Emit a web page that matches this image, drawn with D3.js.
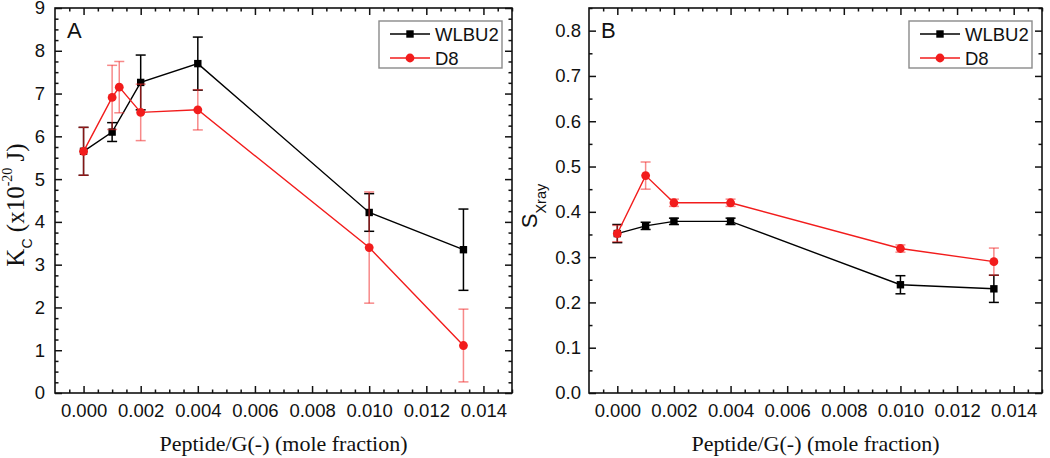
<!DOCTYPE html>
<html>
<head>
<meta charset="utf-8">
<script src="https://cdn.jsdelivr.net/npm/d3@7"></script>
<style>
  body { margin: 0; background: #fff; }
  svg { display: block; }
  .tick-label { font-family: "Liberation Sans", Arial, sans-serif; font-size: 18.5px; fill: #111; }
  .serif { font-family: "Liberation Serif", "Times New Roman", serif; }
  .sans { font-family: "Liberation Sans", Arial, sans-serif; }
</style>
</head>
<body>
<svg id="chart" width="1050" height="458"></svg>
<script>
// x positions (peptide / G(-) mole fraction)
var xWlbu = [0, 0.001, 0.002, 0.004, 0.010, 0.0133];
var xD8Kc = [0, 0.001, 0.00125, 0.002, 0.004, 0.010, 0.0133];
var xD8S = [0, 0.001, 0.002, 0.004, 0.010, 0.0133];

// panel A: bending rigidity Kc (x10^-20 J)
var kcWlbu = [5.65, 6.1, 7.26, 7.7, 4.22, 3.35];
var kcWlbuErr = [0.56, 0.22, 0.64, 0.62, 0.44, 0.95];
var kcD8 = [5.65, 6.91, 7.15, 6.56, 6.62, 3.4, 1.11];
var kcD8Err = [0.56, 0.75, 0.6, 0.66, 0.47, 1.3, 0.85];

// panel B: order parameter S_Xray
var sWlbu = [0.352, 0.369, 0.379, 0.379, 0.239, 0.23];
var sWlbuErr = [0.02, 0.008, 0.007, 0.007, 0.02, 0.03];
var sD8 = [0.352, 0.48, 0.42, 0.42, 0.319, 0.29];
var sD8Err = [0.018, 0.03, 0.008, 0.008, 0.008, 0.03];

var xTicks = [0, 0.002, 0.004, 0.006, 0.008, 0.010, 0.012, 0.014];
var kcTicks = [0, 1, 2, 3, 4, 5, 6, 7, 8, 9];
var sTicks = [0, 0.1, 0.2, 0.3, 0.4, 0.5, 0.6, 0.7, 0.8];
var seriesNames = ["WLBU2", "D8"];

var svg = d3.select("#chart");

function zip(xs, ys, es) {
  return xs.map(function (x, i) { return { x: x, y: ys[i], e: es[i] }; });
}

function drawPanel(cfg) {
  var g = svg.append("g");
  var x = d3.scaleLinear().domain([-0.001, 0.015]).range([cfg.left, cfg.right]);
  var y = d3.scaleLinear().domain(cfg.yDomain).range([cfg.bottom, cfg.top]);

  // minor / major ticks, inward on all four sides
  var xMinor = d3.range(-0.0005, 0.01501, 0.0005).filter(function (v) {
    return Math.abs(Math.round(v / 0.002) * 0.002 - v) > 1e-7;
  });
  var yMinor = d3.range(cfg.yDomain[0], cfg.yDomain[1] + 1e-9, cfg.yMinorStep).filter(function (v) {
    return Math.abs(Math.round(v / cfg.yMajorStep) * cfg.yMajorStep - v) > 1e-7;
  });

  var axB = d3.axisBottom(x).tickValues(xTicks).tickSize(-7).tickFormat(d3.format(".3f")).tickPadding(16);
  var axT = d3.axisTop(x).tickValues(xTicks).tickSize(-7).tickFormat("");
  var axL = d3.axisLeft(y).tickValues(cfg.yTicks).tickSize(-7).tickFormat(cfg.yFormat).tickPadding(16);
  var axR = d3.axisRight(y).tickValues(cfg.yTicks).tickSize(-7).tickFormat("");

  function minorAxis(a, vals) { return a.tickValues(vals).tickSize(-3.5).tickFormat(""); }

  g.append("g").attr("transform", "translate(0," + cfg.bottom + ")").call(minorAxis(d3.axisBottom(x), xMinor));
  g.append("g").attr("transform", "translate(0," + cfg.top + ")").call(minorAxis(d3.axisTop(x), xMinor));
  g.append("g").attr("transform", "translate(" + cfg.left + ",0)").call(minorAxis(d3.axisLeft(y), yMinor));
  g.append("g").attr("transform", "translate(" + cfg.right + ",0)").call(minorAxis(d3.axisRight(y), yMinor));

  var gb = g.append("g").attr("transform", "translate(0," + cfg.bottom + ")").call(axB);
  g.append("g").attr("transform", "translate(0," + cfg.top + ")").call(axT);
  var gl = g.append("g").attr("transform", "translate(" + cfg.left + ",0)").call(axL);
  g.append("g").attr("transform", "translate(" + cfg.right + ",0)").call(axR);

  g.selectAll(".domain").remove();
  g.selectAll(".tick line").attr("stroke", "#111").attr("stroke-width", 1.5);
  gb.selectAll("text").attr("class", "tick-label").attr("dy", "0.71em").attr("y", 11);
  gl.selectAll("text").attr("class", "tick-label").attr("x", -cfg.yLabelGap);

  g.append("rect")
    .attr("x", cfg.left).attr("y", cfg.top)
    .attr("width", cfg.right - cfg.left).attr("height", cfg.bottom - cfg.top)
    .attr("fill", "none").attr("stroke", "#111").attr("stroke-width", 1.6);

  var line = d3.line().x(function (d) { return x(d.x); }).y(function (d) { return y(d.y); });

  function drawSeries(data, color, errColor, marker) {
    var s = g.append("g");
    s.append("path").datum(data).attr("d", line)
      .attr("fill", "none").attr("stroke", color).attr("stroke-width", 1.4);
    var eb = s.selectAll(".err").data(data).enter().append("g").attr("stroke", errColor).attr("stroke-width", 1.5);
    eb.append("line")
      .attr("x1", function (d) { return x(d.x); }).attr("x2", function (d) { return x(d.x); })
      .attr("y1", function (d) { return y(d.y - d.e); }).attr("y2", function (d) { return y(d.y + d.e); });
    [1, -1].forEach(function (sg) {
      eb.append("line")
        .attr("x1", function (d) { return x(d.x) - 5; }).attr("x2", function (d) { return x(d.x) + 5; })
        .attr("y1", function (d) { return y(d.y + sg * d.e); }).attr("y2", function (d) { return y(d.y + sg * d.e); });
    });
    if (marker === "square") {
      s.selectAll(".mk").data(data).enter().append("rect")
        .attr("x", function (d) { return x(d.x) - 3.7; }).attr("y", function (d) { return y(d.y) - 3.7; })
        .attr("width", 7.4).attr("height", 7.4).attr("fill", color);
    } else {
      s.selectAll(".mk").data(data).enter().append("circle")
        .attr("cx", function (d) { return x(d.x); }).attr("cy", function (d) { return y(d.y); })
        .attr("r", 4.4).attr("fill", color);
    }
  }

  drawSeries(cfg.black, "#000", "#000", "square");
  drawSeries(cfg.red, "#f21c1c", "rgba(240,40,40,0.55)", "circle");

  // panel letter
  g.append("text").attr("class", "sans").attr("x", cfg.left + 12).attr("y", cfg.top + 30)
    .attr("font-size", 22).attr("fill", "#111").text(cfg.letter);

  // legend
  var lx = cfg.right - 133, ly = cfg.top + 13;
  var leg = g.append("g");
  leg.append("rect").attr("x", lx).attr("y", ly).attr("width", 123).attr("height", 47)
    .attr("fill", "#fff").attr("stroke", "#8a8a8a").attr("stroke-width", 1.4);
  var cols = ["#000", "#f21c1c"];
  seriesNames.forEach(function (name, i) {
    var cy = ly + 13 + i * 24;
    leg.append("line").attr("x1", lx + 11).attr("x2", lx + 51).attr("y1", cy).attr("y2", cy)
      .attr("stroke", cols[i]).attr("stroke-width", 1.4);
    if (i === 0) {
      leg.append("rect").attr("x", lx + 31 - 3.7).attr("y", cy - 3.7).attr("width", 7.4).attr("height", 7.4).attr("fill", cols[i]);
    } else {
      leg.append("circle").attr("cx", lx + 31).attr("cy", cy).attr("r", 4.4).attr("fill", cols[i]);
    }
    leg.append("text").attr("class", "sans").attr("x", lx + 56).attr("y", cy + 6.5)
      .attr("font-size", 18.5).attr("fill", "#111").text(name);
  });

  // x title
  g.append("text").attr("class", "serif").attr("text-anchor", "middle")
    .attr("x", (cfg.left + cfg.right) / 2).attr("y", 451)
    .attr("font-size", 22).attr("fill", "#111").text("Peptide/G(-) (mole fraction)");

  cfg.yTitle(g);
}

drawPanel({
  left: 55, right: 512, top: 8, bottom: 393,
  yDomain: [0, 9], yTicks: kcTicks, yMajorStep: 1, yMinorStep: 0.25,
  yFormat: d3.format("d"), yLabelGap: 10, letter: "A",
  black: zip(xWlbu, kcWlbu, kcWlbuErr),
  red: zip(xD8Kc, kcD8, kcD8Err),
  yTitle: function (g) {
    var t = g.append("text").attr("transform", "translate(24,205) rotate(-90)")
      .attr("text-anchor", "middle").attr("fill", "#111").attr("class", "serif").attr("font-size", 25);
    t.append("tspan").text("K");
    t.append("tspan").attr("class", "sans").attr("font-size", 14).attr("dy", 8).text("C");
    t.append("tspan").attr("dy", -8).text(" (x10");
    t.append("tspan").attr("font-size", 14).attr("dy", -12).text("-20");
    t.append("tspan").attr("dy", 12).text(" J)");
  }
});

drawPanel({
  left: 589, right: 1042, top: 8, bottom: 393,
  yDomain: [0, 0.85], yTicks: sTicks, yMajorStep: 0.1, yMinorStep: 0.05,
  yFormat: d3.format(".1f"), yLabelGap: 8, letter: "B",
  black: zip(xWlbu, sWlbu, sWlbuErr),
  red: zip(xD8S, sD8, sD8Err),
  yTitle: function (g) {
    var t = g.append("text").attr("transform", "translate(537,206) rotate(-90)")
      .attr("text-anchor", "middle").attr("fill", "#111").attr("class", "sans").attr("font-size", 22);
    t.append("tspan").text("S");
    t.append("tspan").attr("font-size", 14.5).attr("dy", 9).text("Xray");
  }
});
</script>
</body>
</html>
